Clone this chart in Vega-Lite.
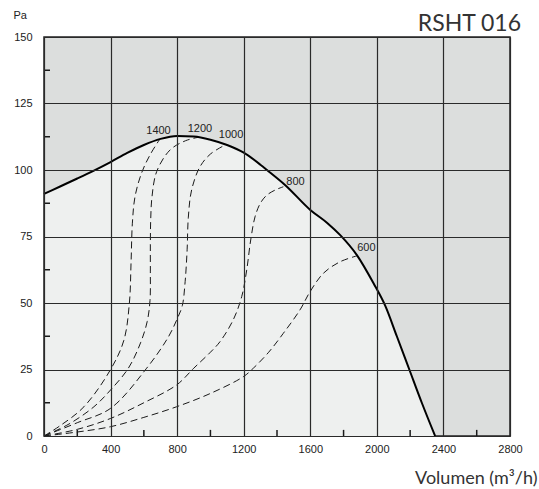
{
  "$schema": "https://vega.github.io/schema/vega-lite/v6.json",
  "autosize": "none",
  "width": 466,
  "height": 399,
  "padding": {"left": 44, "top": 37, "right": 29, "bottom": 53},
  "config": {"font": "Liberation Sans", "view": {"stroke": "#222", "strokeWidth": 1.5, "fill": "#dcdedd"}},
  "title": {"text": "RSHT 016", "anchor": "end", "frame": "group", "dx": 11, "dy": 50, "offset": 6, "baseline": "alphabetic", "fontSize": 23, "font": "Lato", "fontWeight": "normal", "color": "#333"},
  "datasets": {
    "fan": [
      {"q": 0, "p": 91}, {"q": 100, "p": 93.9}, {"q": 200, "p": 96.8}, {"q": 300, "p": 99.8},
      {"q": 400, "p": 103}, {"q": 500, "p": 106.4}, {"q": 600, "p": 109.4}, {"q": 700, "p": 111.7},
      {"q": 800, "p": 112.8}, {"q": 900, "p": 112.6}, {"q": 1000, "p": 111.4}, {"q": 1100, "p": 109.4},
      {"q": 1200, "p": 106.5}, {"q": 1300, "p": 102}, {"q": 1340, "p": 100}, {"q": 1450, "p": 94.3},
      {"q": 1600, "p": 85}, {"q": 1700, "p": 80.2}, {"q": 1780, "p": 75.5}, {"q": 1880, "p": 68},
      {"q": 1980, "p": 57.4}, {"q": 2050, "p": 49}, {"q": 2120, "p": 37.5}, {"q": 2195, "p": 25},
      {"q": 2270, "p": 12.5}, {"q": 2350, "p": 0}
    ],
    "rpm": [
      {"rpm": "1400", "i": 0, "q": 0, "p": 0}, {"rpm": "1400", "i": 1, "q": 100, "p": 4},
      {"rpm": "1400", "i": 2, "q": 240, "p": 11}, {"rpm": "1400", "i": 3, "q": 400, "p": 25},
      {"rpm": "1400", "i": 4, "q": 480, "p": 36}, {"rpm": "1400", "i": 5, "q": 513, "p": 50},
      {"rpm": "1400", "i": 6, "q": 523, "p": 65}, {"rpm": "1400", "i": 7, "q": 531, "p": 80},
      {"rpm": "1400", "i": 8, "q": 547, "p": 90}, {"rpm": "1400", "i": 9, "q": 587, "p": 99},
      {"rpm": "1400", "i": 10, "q": 640, "p": 106}, {"rpm": "1400", "i": 11, "q": 697, "p": 111.7},
      {"rpm": "1200", "i": 0, "q": 0, "p": 0}, {"rpm": "1200", "i": 1, "q": 150, "p": 4.5},
      {"rpm": "1200", "i": 2, "q": 300, "p": 11}, {"rpm": "1200", "i": 3, "q": 400, "p": 17.3},
      {"rpm": "1200", "i": 4, "q": 507, "p": 25.5}, {"rpm": "1200", "i": 5, "q": 580, "p": 35},
      {"rpm": "1200", "i": 6, "q": 620, "p": 43}, {"rpm": "1200", "i": 7, "q": 637, "p": 51},
      {"rpm": "1200", "i": 8, "q": 639, "p": 62}, {"rpm": "1200", "i": 9, "q": 639, "p": 72},
      {"rpm": "1200", "i": 10, "q": 641, "p": 81}, {"rpm": "1200", "i": 11, "q": 649, "p": 90},
      {"rpm": "1200", "i": 12, "q": 677, "p": 99.4}, {"rpm": "1200", "i": 13, "q": 757, "p": 107.5},
      {"rpm": "1200", "i": 14, "q": 850, "p": 111}, {"rpm": "1200", "i": 15, "q": 927, "p": 112.3},
      {"rpm": "1000", "i": 0, "q": 0, "p": 0}, {"rpm": "1000", "i": 1, "q": 200, "p": 5},
      {"rpm": "1000", "i": 2, "q": 400, "p": 10.4}, {"rpm": "1000", "i": 3, "q": 617, "p": 25.5},
      {"rpm": "1000", "i": 4, "q": 745, "p": 37}, {"rpm": "1000", "i": 5, "q": 800, "p": 44},
      {"rpm": "1000", "i": 6, "q": 831, "p": 49}, {"rpm": "1000", "i": 7, "q": 848, "p": 58},
      {"rpm": "1000", "i": 8, "q": 860, "p": 70}, {"rpm": "1000", "i": 9, "q": 867, "p": 82},
      {"rpm": "1000", "i": 10, "q": 887, "p": 92.5}, {"rpm": "1000", "i": 11, "q": 937, "p": 101.2},
      {"rpm": "1000", "i": 12, "q": 1000, "p": 106}, {"rpm": "1000", "i": 13, "q": 1088, "p": 109.4},
      {"rpm": "800", "i": 0, "q": 0, "p": 0}, {"rpm": "800", "i": 1, "q": 200, "p": 2.5},
      {"rpm": "800", "i": 2, "q": 400, "p": 6.6}, {"rpm": "800", "i": 3, "q": 600, "p": 12.5},
      {"rpm": "800", "i": 4, "q": 797, "p": 19.2}, {"rpm": "800", "i": 5, "q": 900, "p": 25.5},
      {"rpm": "800", "i": 6, "q": 1000, "p": 31.5}, {"rpm": "800", "i": 7, "q": 1058, "p": 35.5},
      {"rpm": "800", "i": 8, "q": 1138, "p": 43.8}, {"rpm": "800", "i": 9, "q": 1188, "p": 52.4},
      {"rpm": "800", "i": 10, "q": 1218, "p": 62.4}, {"rpm": "800", "i": 11, "q": 1242, "p": 73.7},
      {"rpm": "800", "i": 12, "q": 1268, "p": 82.4}, {"rpm": "800", "i": 13, "q": 1300, "p": 87.5},
      {"rpm": "800", "i": 14, "q": 1338, "p": 90.5}, {"rpm": "800", "i": 15, "q": 1390, "p": 92.5},
      {"rpm": "800", "i": 16, "q": 1438, "p": 93.7},
      {"rpm": "600", "i": 0, "q": 0, "p": 0}, {"rpm": "600", "i": 1, "q": 200, "p": 1.5},
      {"rpm": "600", "i": 2, "q": 400, "p": 3.5}, {"rpm": "600", "i": 3, "q": 600, "p": 7},
      {"rpm": "600", "i": 4, "q": 797, "p": 11}, {"rpm": "600", "i": 5, "q": 1000, "p": 16},
      {"rpm": "600", "i": 6, "q": 1198, "p": 22.3}, {"rpm": "600", "i": 7, "q": 1258, "p": 25.5},
      {"rpm": "600", "i": 8, "q": 1350, "p": 31.5}, {"rpm": "600", "i": 9, "q": 1438, "p": 38.6},
      {"rpm": "600", "i": 10, "q": 1538, "p": 47.4}, {"rpm": "600", "i": 11, "q": 1598, "p": 54.2},
      {"rpm": "600", "i": 12, "q": 1679, "p": 61.2}, {"rpm": "600", "i": 13, "q": 1779, "p": 65.5},
      {"rpm": "600", "i": 14, "q": 1879, "p": 67.7}
    ],
    "labels": [
      {"t": "1400", "q": 688, "p": 114.7},
      {"t": "1200", "q": 937, "p": 115.4},
      {"t": "1000", "q": 1124, "p": 113.3},
      {"t": "800", "q": 1511, "p": 95.5},
      {"t": "600", "q": 1937, "p": 70.7}
    ],
    "xminor": [{"q": 200}, {"q": 600}, {"q": 1000}, {"q": 1400}, {"q": 1800}, {"q": 2200}, {"q": 2600}],
    "yminor": [{"p": 12.5}, {"p": 37.5}, {"p": 62.5}, {"p": 87.5}, {"p": 112.5}, {"p": 137.5}]
  },
  "encoding": {
    "x": {
      "type": "quantitative",
      "scale": {"domain": [0, 2800], "nice": false, "zero": true},
      "axis": {
        "values": [0, 400, 800, 1200, 1600, 2000, 2400, 2800], "format": "d",
        "grid": true, "gridColor": "#2a2a2a", "gridWidth": 1.2, "gridOpacity": 1,
        "ticks": false, "domain": false, "zindex": 1,
        "labelPadding": 7, "labelFontSize": 11, "labelColor": "#222", "labelFlush": false,
        "title": "Volumen (m³/h)", "titleFont": "Lato", "titleFontSize": 18, "titleFontWeight": "normal",
        "titleColor": "#333", "titleAlign": "right", "titleX": 493, "titleY": 47, "titleBaseline": "alphabetic"
      }
    },
    "y": {
      "type": "quantitative",
      "scale": {"domain": [0, 150], "nice": false, "zero": true},
      "axis": {
        "values": [0, 25, 50, 75, 100, 125, 150], "format": "d",
        "grid": true, "gridColor": "#2a2a2a", "gridWidth": 1.2, "gridOpacity": 1,
        "ticks": false, "domain": false, "zindex": 1,
        "labelPadding": 12, "labelFontSize": 11, "labelColor": "#222", "labelFlush": false,
        "title": "Pa", "titleAngle": 0, "titleFontSize": 11, "titleFontWeight": "normal", "titleColor": "#222",
        "titleAlign": "left", "titleBaseline": "alphabetic", "titleX": -31, "titleY": -18.5
      }
    }
  },
  "layer": [
    {
      "data": {"name": "fan"},
      "mark": {"type": "area", "interpolate": "monotone", "color": "#eef0ef"},
      "encoding": {"x": {"field": "q"}, "y": {"field": "p"}}
    },
    {
      "data": {"name": "rpm"},
      "mark": {"type": "line", "interpolate": "catmull-rom", "color": "#1a1a1a", "strokeWidth": 1, "strokeDash": [7, 4]},
      "encoding": {"x": {"field": "q"}, "y": {"field": "p"}, "detail": {"field": "rpm"}, "order": {"field": "i", "type": "quantitative"}}
    },
    {
      "data": {"name": "fan"},
      "mark": {"type": "line", "interpolate": "monotone", "color": "#000", "strokeWidth": 2},
      "encoding": {"x": {"field": "q"}, "y": {"field": "p"}}
    },
    {
      "data": {"name": "labels"},
      "mark": {"type": "text", "fontSize": 11, "fill": "#222"},
      "encoding": {"x": {"field": "q"}, "y": {"field": "p"}, "text": {"field": "t"}}
    },
    {
      "data": {"name": "xminor"},
      "mark": {"type": "rule", "color": "#1a1a1a", "strokeWidth": 1.5},
      "encoding": {"x": {"field": "q"}, "y": {"datum": 0}, "y2": {"datum": 2.3}}
    },
    {
      "data": {"name": "yminor"},
      "mark": {"type": "rule", "color": "#1a1a1a", "strokeWidth": 1.5},
      "encoding": {"y": {"field": "p"}, "x": {"datum": 0}, "x2": {"datum": 36}}
    }
  ]
}
